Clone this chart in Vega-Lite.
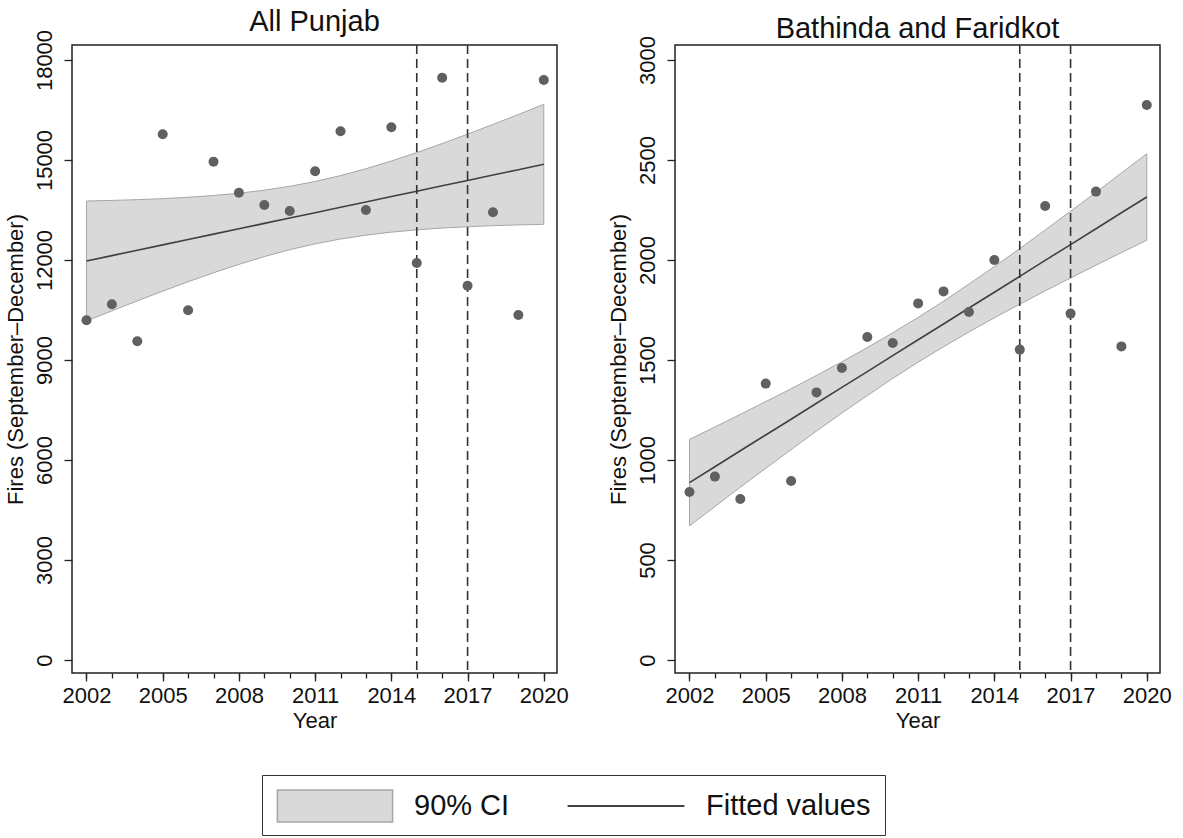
{
  "$schema": "https://vega.github.io/schema/vega-lite/v6.json",
  "padding": {"left": 3, "top": 7, "right": 0, "bottom": 0},
  "background": "white",
  "config": {
    "font": "Liberation Sans",
    "view": {"stroke": "#222222", "strokeWidth": 1.5},
    "axis": {"grid": false, "domain": false, "tickColor": "#222222", "tickWidth": 1.3, "labelFont": "Liberation Sans", "labelFontSize": 22, "labelColor": "#111111", "titleFont": "Liberation Sans", "titleFontSize": 22, "titleFontWeight": "normal", "titleColor": "#111111"}
  },
  "datasets": {
    "punjab": [
      {"year": 2002, "fires": 10190, "fit": 11970, "lo": 10170, "hi": 13770},
      {"year": 2003, "fires": 10670, "fit": 12131, "lo": 10475, "hi": 13787},
      {"year": 2004, "fires": 9560, "fit": 12292, "lo": 10773, "hi": 13811},
      {"year": 2005, "fires": 15770, "fit": 12453, "lo": 11065, "hi": 13841},
      {"year": 2006, "fires": 10490, "fit": 12614, "lo": 11347, "hi": 13881},
      {"year": 2007, "fires": 14950, "fit": 12776, "lo": 11617, "hi": 13935},
      {"year": 2008, "fires": 14020, "fit": 12937, "lo": 11870, "hi": 14004},
      {"year": 2009, "fires": 13650, "fit": 13098, "lo": 12102, "hi": 14094},
      {"year": 2010, "fires": 13470, "fit": 13259, "lo": 12308, "hi": 14210},
      {"year": 2011, "fires": 14660, "fit": 13420, "lo": 12484, "hi": 14356},
      {"year": 2012, "fires": 15860, "fit": 13581, "lo": 12630, "hi": 14532},
      {"year": 2013, "fires": 13500, "fit": 13742, "lo": 12746, "hi": 14738},
      {"year": 2014, "fires": 15980, "fit": 13903, "lo": 12836, "hi": 14970},
      {"year": 2015, "fires": 11910, "fit": 14064, "lo": 12905, "hi": 15223},
      {"year": 2016, "fires": 17470, "fit": 14225, "lo": 12958, "hi": 15492},
      {"year": 2017, "fires": 11230, "fit": 14387, "lo": 12999, "hi": 15775},
      {"year": 2018, "fires": 13430, "fit": 14548, "lo": 13029, "hi": 16067},
      {"year": 2019, "fires": 10350, "fit": 14709, "lo": 13053, "hi": 16365},
      {"year": 2020, "fires": 17400, "fit": 14870, "lo": 13070, "hi": 16670}
    ],
    "bathinda": [
      {"year": 2002, "fires": 840, "fit": 887, "lo": 671, "hi": 1103},
      {"year": 2003, "fires": 917, "fit": 966, "lo": 767, "hi": 1165},
      {"year": 2004, "fires": 805, "fit": 1046, "lo": 864, "hi": 1228},
      {"year": 2005, "fires": 1382, "fit": 1125, "lo": 958, "hi": 1292},
      {"year": 2006, "fires": 895, "fit": 1204, "lo": 1052, "hi": 1356},
      {"year": 2007, "fires": 1338, "fit": 1284, "lo": 1145, "hi": 1423},
      {"year": 2008, "fires": 1460, "fit": 1363, "lo": 1235, "hi": 1491},
      {"year": 2009, "fires": 1615, "fit": 1442, "lo": 1322, "hi": 1562},
      {"year": 2010, "fires": 1585, "fit": 1522, "lo": 1408, "hi": 1636},
      {"year": 2011, "fires": 1783, "fit": 1601, "lo": 1489, "hi": 1713},
      {"year": 2012, "fires": 1843, "fit": 1680, "lo": 1566, "hi": 1794},
      {"year": 2013, "fires": 1740, "fit": 1760, "lo": 1640, "hi": 1880},
      {"year": 2014, "fires": 2000, "fit": 1839, "lo": 1711, "hi": 1967},
      {"year": 2015, "fires": 1552, "fit": 1918, "lo": 1779, "hi": 2057},
      {"year": 2016, "fires": 2270, "fit": 1998, "lo": 1846, "hi": 2150},
      {"year": 2017, "fires": 1732, "fit": 2077, "lo": 1910, "hi": 2244},
      {"year": 2018, "fires": 2342, "fit": 2156, "lo": 1974, "hi": 2338},
      {"year": 2019, "fires": 1568, "fit": 2236, "lo": 2037, "hi": 2435},
      {"year": 2020, "fires": 2775, "fit": 2315, "lo": 2099, "hi": 2531}
    ],
    "cutoffs": [{"yr": 2015}, {"yr": 2017}]
  },
  "resolve": {"scale": {"fill": "shared", "stroke": "shared"}, "legend": {"fill": "shared", "stroke": "shared"}},
  "spacing": 118,
  "bounds": "flush",
  "hconcat": [
    {
      "width": 485, "height": 628,
      "title": {"text": "All Punjab", "fontSize": 29, "fontWeight": "normal", "font": "Liberation Sans", "color": "#111111", "offset": -8, "anchor": "middle"},
      "resolve": {"axis": {"x": "independent"}},
      "layer": [
        {
          "data": {"name": "punjab"},
          "mark": {"type": "area", "stroke": "#a6a6a6", "strokeWidth": 1, "opacity": 1},
          "encoding": {
            "x": {"field": "year", "type": "quantitative", "scale": {"domain": [2001.43, 2020.52], "nice": false, "zero": false},
                  "axis": {"orient": "bottom", "values": [2002, 2005, 2008, 2011, 2014, 2017, 2020], "format": "d", "tickSize": 8, "labelPadding": 4, "title": "Year", "titlePadding": 4, "labelFlush": false, "labelOverlap": false}},
            "y": {"field": "lo", "type": "quantitative", "title": "Fires (September–December)", "scale": {"domain": [-390, 18450], "nice": false, "zero": false},
                  "axis": {"values": [0, 3000, 6000, 9000, 12000, 15000, 18000], "format": "d", "tickSize": 8, "labelAngle": -90, "labelPadding": 8, "titlePadding": 6, "labelFlush": false, "labelOverlap": false}},
            "y2": {"field": "hi"},
            "fill": {"datum": "90% CI", "type": "nominal", "scale": {"domain": ["90% CI"], "range": ["#d9d9d9"]},
              "legend": {
                "orient": "none", "legendX": 190, "legendY": 730, "direction": "horizontal", "title": null,
                "padding": 14,
                "labelFontSize": 29, "labelFont": "Liberation Sans", "labelColor": "#111111", "labelLimit": 400,
                "symbolType": "M-3.6,-1H3.6V1H-3.6Z", "symbolSize": 1024, "symbolOffset": 42, "labelOffset": 62,
                "symbolStrokeColor": "#a6a6a6", "symbolStrokeWidth": 1.5, "symbolOpacity": 1
              }}
          }
        },
        {
          "data": {"name": "punjab"},
          "mark": {"type": "line", "strokeWidth": 1.6},
          "encoding": {
            "x": {"field": "year", "type": "quantitative", "axis": {"orient": "bottom", "values": [2002,2003,2004,2005,2006,2007,2008,2009,2010,2011,2012,2013,2014,2015,2016,2017,2018,2019,2020], "tickSize": 5, "labels": false, "title": null}},
            "y": {"field": "fit", "type": "quantitative", "title": "Fires (September–December)"},
            "stroke": {"datum": "Fitted values", "type": "nominal", "scale": {"domain": ["Fitted values"], "range": ["#404040"]},
              "legend": {
                "orient": "none", "legendX": 190, "legendY": 730, "direction": "horizontal", "title": null,
                "strokeColor": "#333333", "padding": 14,
                "labelFontSize": 29, "labelFont": "Liberation Sans", "labelColor": "#111111", "labelLimit": 400,
                "symbolType": "M-3.65,0H3.65", "symbolSize": 1024, "symbolOffset": 333, "labelOffset": 63,
                "symbolStrokeWidth": 2, "symbolOpacity": 1
              }}
          }
        },
        {
          "data": {"name": "cutoffs"},
          "mark": {"type": "rule", "color": "#333333", "strokeWidth": 1.6, "strokeDash": [9, 5]},
          "encoding": {"x": {"field": "yr", "type": "quantitative", "axis": null}}
        },
        {
          "data": {"name": "punjab"},
          "mark": {"type": "circle", "color": "#606060", "size": 100, "opacity": 1},
          "encoding": {
            "x": {"field": "year", "type": "quantitative", "axis": null},
            "y": {"field": "fires", "type": "quantitative", "title": "Fires (September–December)"}
          }
        }
      ]
    },
    {
      "width": 485, "height": 628,
      "title": {"text": "Bathinda and Faridkot", "fontSize": 29, "fontWeight": "normal", "font": "Liberation Sans", "color": "#111111", "offset": -8, "anchor": "middle"},
      "resolve": {"axis": {"x": "independent"}},
      "layer": [
        {
          "data": {"name": "bathinda"},
          "mark": {"type": "area", "stroke": "#a6a6a6", "strokeWidth": 1, "opacity": 1},
          "encoding": {
            "x": {"field": "year", "type": "quantitative", "scale": {"domain": [2001.43, 2020.52], "nice": false, "zero": false},
                  "axis": {"orient": "bottom", "values": [2002, 2005, 2008, 2011, 2014, 2017, 2020], "format": "d", "tickSize": 8, "labelPadding": 4, "title": "Year", "titlePadding": 4, "labelFlush": false, "labelOverlap": false}},
            "y": {"field": "lo", "type": "quantitative", "title": "Fires (September–December)", "scale": {"domain": [-65, 3075], "nice": false, "zero": false},
                  "axis": {"values": [0, 500, 1000, 1500, 2000, 2500, 3000], "format": "d", "tickSize": 8, "labelAngle": -90, "labelPadding": 8, "titlePadding": 6, "labelFlush": false, "labelOverlap": false}},
            "y2": {"field": "hi"},
            "fill": {"datum": "90% CI", "type": "nominal"}
          }
        },
        {
          "data": {"name": "bathinda"},
          "mark": {"type": "line", "strokeWidth": 1.6},
          "encoding": {
            "x": {"field": "year", "type": "quantitative", "axis": {"orient": "bottom", "values": [2002,2003,2004,2005,2006,2007,2008,2009,2010,2011,2012,2013,2014,2015,2016,2017,2018,2019,2020], "tickSize": 5, "labels": false, "title": null}},
            "y": {"field": "fit", "type": "quantitative", "title": "Fires (September–December)"},
            "stroke": {"datum": "Fitted values", "type": "nominal"}
          }
        },
        {
          "data": {"name": "cutoffs"},
          "mark": {"type": "rule", "color": "#333333", "strokeWidth": 1.6, "strokeDash": [9, 5]},
          "encoding": {"x": {"field": "yr", "type": "quantitative", "axis": null}}
        },
        {
          "data": {"name": "bathinda"},
          "mark": {"type": "circle", "color": "#606060", "size": 100, "opacity": 1},
          "encoding": {
            "x": {"field": "year", "type": "quantitative", "axis": null},
            "y": {"field": "fires", "type": "quantitative", "title": "Fires (September–December)"}
          }
        }
      ]
    }
  ]
}
